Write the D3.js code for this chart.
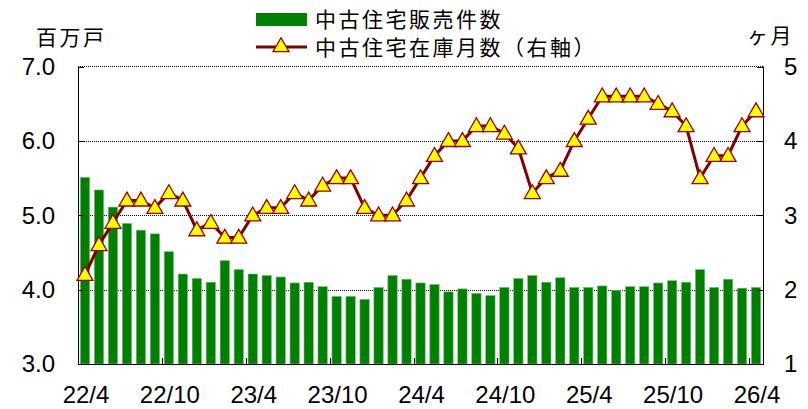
<!DOCTYPE html>
<html>
<head>
<meta charset="utf-8">
<script src="https://cdn.jsdelivr.net/npm/d3@7"></script>
<style>
  body { margin: 0; background: #fff; }
  svg { display: block; }
  .num { font-family: "Liberation Sans", Arial, sans-serif; font-size: 24px; fill: #000; }
  .jp { font-family: "Noto Sans CJK JP", sans-serif; font-size: 21px; letter-spacing: 2.5px; fill: #000; }
</style>
</head>
<body>
<div class="vis-chart"></div>
<script>
// months 22/4 .. 26/4
const months = d3.range(49).map(i => {
    const y = 22 + Math.floor((i + 3) / 12)
    const m = ((i + 3) % 12) + 1
    return `${y}/${m}`
})
const tickLabels = ["22/4", "22/10", "23/4", "23/10", "24/4", "24/10", "25/4", "25/10", "26/4"]

// 中古住宅販売件数 (百万戸)
const sales = [5.51, 5.34, 5.11, 4.89, 4.80, 4.75, 4.51, 4.21, 4.15, 4.10,
    4.39, 4.27, 4.21, 4.19, 4.17, 4.09, 4.10, 4.04, 3.91, 3.91,
    3.87, 4.03, 4.19, 4.14, 4.09, 4.07, 3.97, 4.01, 3.95, 3.92,
    4.03, 4.15, 4.19, 4.10, 4.16, 4.03, 4.03, 4.05, 3.99, 4.04,
    4.04, 4.09, 4.12, 4.10, 4.27, 4.03, 4.14, 4.02, 4.03]

// 中古住宅在庫月数 (ヶ月, 右軸)
const supply = [2.2, 2.6, 2.9, 3.2, 3.2, 3.1, 3.3, 3.2, 2.8, 2.9,
    2.7, 2.7, 3.0, 3.1, 3.1, 3.3, 3.2, 3.4, 3.5, 3.5,
    3.1, 3.0, 3.0, 3.2, 3.5, 3.8, 4.0, 4.0, 4.2, 4.2,
    4.1, 3.9, 3.3, 3.5, 3.6, 4.0, 4.3, 4.6, 4.6, 4.6,
    4.6, 4.5, 4.4, 4.2, 3.5, 3.8, 3.8, 4.2, 4.4]

const leftTicks = [3, 4, 5, 6, 7]
const rightTicks = [1, 2, 3, 4, 5]

const width = 808
const height = 409
const plotLeft = 78, plotRight = 763, plotTop = 66.5, plotBottom = 364

const svg = d3.select('.vis-chart')
    .append('svg')
    .attr('width', width)
    .attr('height', height)

const x = d3.scaleBand()
    .domain(months)
    .range([plotLeft, plotRight])
    .paddingInner(0.33)
    .paddingOuter(0.165)

const xb = d3.scaleBand().domain(months).range([plotLeft, plotRight]) // band edges for ticks

const yL = d3.scaleLinear().domain([3, 7]).range([plotBottom, plotTop])
const yR = d3.scaleLinear().domain([1, 5]).range([plotBottom, plotTop])

// gridlines
svg.append("g")
    .selectAll("line")
    .data([4, 5, 6])
    .join("line")
    .attr("x1", plotLeft).attr("x2", plotRight)
    .attr("y1", d => Math.round(yL(d)) + 0.5)
    .attr("y2", d => Math.round(yL(d)) + 0.5)
    .attr("stroke", "#000")
    .attr("stroke-width", 1)
    .attr("stroke-dasharray", "1,1")

// bars
svg.append("g")
    .selectAll("rect")
    .data(sales)
    .join("rect")
    .attr("x", (d, i) => x(months[i]))
    .attr("width", x.bandwidth())
    .attr("y", d => yL(d))
    .attr("height", d => plotBottom - yL(d))
    .attr("fill", "#008000")
    .attr("stroke", "#7fbf7f")
    .attr("stroke-width", 0.6)

// frame
svg.append("line").attr("x1", plotLeft).attr("x2", plotRight).attr("y1", plotTop).attr("y2", plotTop)
    .attr("stroke", "#000").attr("stroke-dasharray", "1,1")
svg.append("line").attr("x1", plotLeft + 0.5).attr("x2", plotLeft + 0.5).attr("y1", plotTop).attr("y2", plotBottom)
    .attr("stroke", "#000")
svg.append("line").attr("x1", plotRight + 0.5).attr("x2", plotRight + 0.5).attr("y1", plotTop).attr("y2", plotBottom)
    .attr("stroke", "#000")
svg.append("line").attr("x1", plotLeft).attr("x2", plotRight + 1).attr("y1", plotBottom + 0.5).attr("y2", plotBottom + 0.5)
    .attr("stroke", "#000")

// ticks inward
svg.append("g").selectAll("line").data(leftTicks).join("line")
    .attr("x1", plotLeft).attr("x2", plotLeft + 6)
    .attr("y1", d => Math.round(yL(d)) + 0.5).attr("y2", d => Math.round(yL(d)) + 0.5)
    .attr("stroke", "#000")
svg.append("g").selectAll("line").data(rightTicks).join("line")
    .attr("x1", plotRight - 6).attr("x2", plotRight)
    .attr("y1", d => Math.round(yR(d)) + 0.5).attr("y2", d => Math.round(yR(d)) + 0.5)
    .attr("stroke", "#000")
svg.append("g").selectAll("line")
    .data(months.filter((m, i) => i % 6 === 0 && i > 0))
    .join("line")
    .attr("x1", d => Math.round(xb(d)) + 0.5).attr("x2", d => Math.round(xb(d)) + 0.5)
    .attr("y1", plotBottom).attr("y2", plotBottom - 6)
    .attr("stroke", "#000")

// axis labels
svg.append("g").selectAll("text").data(leftTicks).join("text")
    .attr("class", "num")
    .attr("x", 55)
    .attr("y", d => yL(d))
    .attr("dy", "0.35em")
    .attr("text-anchor", "end")
    .text(d => d.toFixed(1))

svg.append("g").selectAll("text").data(rightTicks).join("text")
    .attr("class", "num")
    .attr("x", 784)
    .attr("y", d => yR(d))
    .attr("dy", "0.35em")
    .text(d => d)

svg.append("g").selectAll("text").data(tickLabels).join("text")
    .attr("class", "num")
    .attr("x", d => xb(d) + xb.bandwidth() / 2 + 1)
    .attr("y", 403)
    .attr("text-anchor", "middle")
    .text(d => d)

// unit titles
svg.append("text").attr("class", "jp").attr("x", 36).attr("y", 45).text("百万戸")
svg.append("text").attr("class", "jp").attr("x", 747).attr("y", 43).text("ヶ月")

// line + markers
const line = d3.line()
    .x((d, i) => x(months[i]) + x.bandwidth() / 2)
    .y(d => yR(d))

svg.append("path")
    .datum(supply)
    .attr("d", line)
    .attr("fill", "none")
    .attr("stroke", "#800000")
    .attr("stroke-width", 3)

const tri = d3.symbol().type(d3.symbolTriangle).size(110)

svg.append("g")
    .selectAll("path")
    .data(supply)
    .join("path")
    .attr("transform", (d, i) => `translate(${x(months[i]) + x.bandwidth() / 2},${yR(d) + 1})`)
    .attr("d", tri)
    .attr("fill", "#ffff00")
    .attr("stroke", "#990000")
    .attr("stroke-width", 1.3)

// legend
svg.append("rect").attr("x", 256).attr("y", 13).attr("width", 51).attr("height", 13).attr("fill", "#008000")
svg.append("text").attr("class", "jp").attr("x", 315).attr("y", 27).text("中古住宅販売件数")
svg.append("line").attr("x1", 256).attr("x2", 307).attr("y1", 47).attr("y2", 47)
    .attr("stroke", "#800000").attr("stroke-width", 3)
svg.append("path").attr("transform", "translate(281,47)").attr("d", tri)
    .attr("fill", "#ffff00").attr("stroke", "#990000").attr("stroke-width", 1.3)
svg.append("text").attr("class", "jp").attr("x", 315).attr("y", 55).text("中古住宅在庫月数（右軸）")
</script>
</body>
</html>
